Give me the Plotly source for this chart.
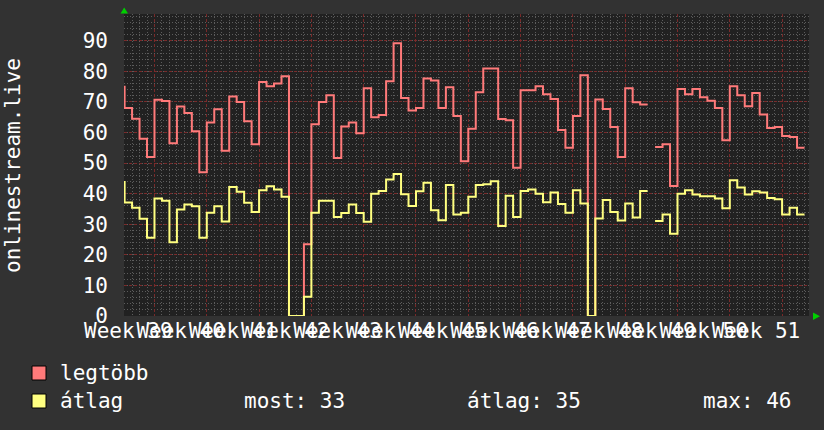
import plotly.graph_objects as go

# ---------------- data (daily values, day 0 = first day of Week 40) ----------------
first_day = -5
legtobb = [75, 68, 64.5, 58, 52,
           70.7, 70.3, 56.5, 68.5, 66.4, 60.4, 47,
           63.3, 67.6, 54, 71.8, 70, 63.7, 56.2,
           76.5, 75.1, 76, 78.4, 0, 0, 23.5,
           62.7, 70, 72.2, 51.7, 62, 63.3, 59.8,
           74.5, 65, 65.7, 76.8, 89.2, 71.3, 67.2,
           68, 77.7, 77, 68, 74.8, 65.4, 50.6,
           61.2, 73.2, 80.9, 80.9, 64.4, 64, 48.5,
           73.8, 73.8, 75.1, 72.5, 71, 60.8, 55,
           65.4, 78.7, 0, 70.8, 67.7, 61.8, 52,
           74.5, 69.9, 69.2, None, 55.3, 56.2, 42.5,
           74.2, 72.5, 74.2, 71.5, 70.4, 68, 57.5,
           75.1, 72.2, 68.6, 72.9, 65.9, 61.5, 61.8,
           58.9, 58.5, 55]
atlag = [43.8, 37.1, 35.4, 31.8, 25.6,
         38.4, 37.7, 24.1, 34.8, 36.5, 35.9, 25.6,
         33.8, 35.9, 30.9, 42.2, 40.6, 37, 34,
         41.1, 42.4, 41.4, 39, 0, 0, 6.3,
         33.8, 37.7, 37.7, 32.4, 33.7, 36.5, 33.7,
         30.8, 40, 40.9, 44.6, 46.4, 39.8, 36,
         40.8, 43.6, 34.6, 31.3, 42.8, 33.2, 33.8,
         39, 42.8, 43.1, 44.1, 29.4, 39.3, 32.4,
         40.9, 41.4, 40, 37.2, 40.4, 36.6, 33.8,
         41.1, 36.8, 0, 31.9, 37.9, 34, 31.2,
         36.8, 32.2, 40.9, None, 31.1, 33.2, 26.9,
         40, 41.1, 39.7, 39.2, 39.2, 38.4, 35.2,
         44.4, 42, 39.7, 40.8, 40.4, 38.6, 38.2,
         33.2, 35.4, 33.2]
week_labels = ["Week 39", "Week 40", "Week 41", "Week 42", "Week 43", "Week 44", "Week 45",
               "Week 46", "Week 47", "Week 48", "Week 49", "Week 50", "Week 51"]
first_label_week_offset = -1  # "Week 39" is the week before day 0
y_ticks = [0, 10, 20, 30, 40, 50, 60, 70, 80, 90]
series_names = ["legtöbb", "átlag"]
stat_labels = ["most: 33", "átlag: 35", "max: 46"]
y_title = "onlinestream.live"

# ---------------- style ----------------
RED = "#ff7a7a"
YELLOW = "#ffff80"
PAPER = "#323232"
PLOT = "#212121"
FONT = "DejaVu Sans Mono"
W, H = 824, 430
L, R, T, B = 124, 809, 14, 316   # plot area in pixels
X_RANGE = [-4.08, 87.6]
Y_RANGE = [0, 98.76]


def step_xy(values, start):
    """Each daily value is held from day i to day i+1; None makes a gap."""
    xs, ys = [], []
    prev = None
    for i, v in enumerate(values):
        d = start + i
        if v is None:
            if prev is not None:
                xs.append(d); ys.append(prev)
                xs.append(None); ys.append(None)
            prev = None
            continue
        xs.append(d); ys.append(v)
        prev = v
    if prev is not None:
        xs.append(start + len(values)); ys.append(prev)
    return xs, ys


fig = go.Figure()
for vals, col, name in [(legtobb, RED, series_names[0]), (atlag, YELLOW, series_names[1])]:
    xs, ys = step_xy(vals, first_day)
    fig.add_trace(go.Scatter(x=xs, y=ys, mode="lines", line=dict(color=col, width=2, shape="hv"),
                             name=name, showlegend=False, hoverinfo="skip", connectgaps=False))

week_centers = [7 * (first_label_week_offset + k) + 3.5 for k in range(len(week_labels))]
fig.add_trace(go.Scatter(x=[week_centers[0]], y=[0], xaxis="x2", mode="markers",
                         marker=dict(opacity=0), showlegend=False, hoverinfo="skip"))

major = "rgba(125,42,42,0.95)"
minor = "rgba(92,92,92,1)"

fig.update_layout(
    width=W, height=H,
    margin=dict(l=L, r=W - R, t=T, b=H - B, pad=0),
    paper_bgcolor=PAPER, plot_bgcolor=PLOT,
    font=dict(family=FONT, size=21, color="white"),
    xaxis=dict(range=X_RANGE, showticklabels=False, ticks="", zeroline=False,
               tickmode="linear", tick0=0, dtick=7, showgrid=True,
               gridcolor=major, gridwidth=1, griddash="3px,2px",
               minor=dict(tick0=0, dtick=1, showgrid=True, gridcolor=minor, gridwidth=1,
                          griddash="1px,2px", ticks=""),
               showline=False, fixedrange=True),
    xaxis2=dict(range=X_RANGE, overlaying="x", anchor="y", side="bottom",
                tickmode="array", tickvals=week_centers, ticktext=week_labels,
                tickangle=0, showgrid=False, zeroline=False, ticks="",
                tickfont=dict(family=FONT, size=21, color="white"), showline=False),
    yaxis=dict(range=Y_RANGE, tickmode="array", tickvals=y_ticks,
               ticktext=[str(v) for v in y_ticks], ticks="", ticklabelstandoff=15,
               tickfont=dict(family=FONT, size=21, color="white"),
               showgrid=True, gridcolor=major, gridwidth=1, griddash="3px,2px",
               minor=dict(tick0=0, dtick=2, showgrid=True, gridcolor=minor, gridwidth=1,
                          griddash="1px,2px", ticks=""),
               zeroline=False, showline=False),
)


def px(x):
    return (x - L) / (R - L)


def py(y):
    return (B - y) / (B - T)


shapes = []
annots = []
# legend swatches
for (y0, y1), col in [((366, 380), RED), ((394, 408), YELLOW)]:
    shapes.append(dict(type="rect", xref="paper", yref="paper", x0=px(32), x1=px(46),
                       y0=py(y1), y1=py(y0), fillcolor=col, line=dict(color="black", width=1)))
for txt, x, y in [(series_names[0], 58, 373), (series_names[1], 58, 401),
                  (stat_labels[0], 242, 401), (stat_labels[1], 465, 401), (stat_labels[2], 701, 401)]:
    annots.append(dict(text=txt, xref="paper", yref="paper", x=px(x), y=py(y), xanchor="left",
                       yanchor="middle", showarrow=False,
                       font=dict(family=FONT, size=21, color="white")))
# y-axis title
annots.append(dict(text=y_title, xref="paper", yref="paper", x=px(13), y=py(165), textangle=-90,
                   xanchor="center", yanchor="middle", showarrow=False,
                   font=dict(family=FONT, size=21, color="white")))
# green axis arrows
shapes.append(dict(type="path", xref="paper", yref="paper",
                   path=f"M {px(120.5)} {py(13.5)} L {px(128)} {py(13.5)} L {px(124.2)} {py(7.5)} Z",
                   fillcolor="#00d000", line=dict(width=0)))
shapes.append(dict(type="path", xref="paper", yref="paper",
                   path=f"M {px(813)} {py(312.5)} L {px(813)} {py(320)} L {px(820)} {py(316.2)} Z",
                   fillcolor="#00d000", line=dict(width=0)))
fig.update_layout(shapes=shapes, annotations=annots)

fig.write_html("out.html", config={"displayModeBar": False, "staticPlot": True},
               post_script="document.body.style.margin='0px';document.body.style.overflow='hidden';")
